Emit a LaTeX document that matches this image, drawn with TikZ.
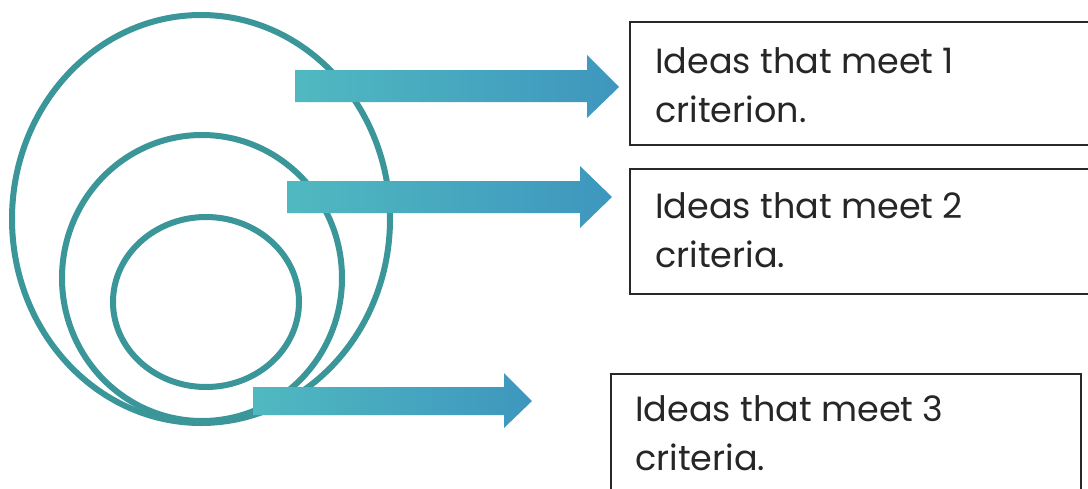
\documentclass[tikz,border=0pt]{standalone}
\usepackage{fontspec}
\setmainfont{Poppins}
\definecolor{ring}{RGB}{58,150,153}
\definecolor{arrA}{RGB}{80,185,192}
\definecolor{arrB}{RGB}{62,150,190}
\definecolor{boxline}{RGB}{40,40,40}
\begin{document}
\begin{tikzpicture}[x=1pt,y=-1pt,
  ringline/.style={draw=ring,line width=6pt},
  arrowshape/.style={left color=arrA,right color=arrB,draw=none},
  textbox/.style={draw=boxline,line width=1.6pt,rectangle,inner sep=0pt,anchor=north west},
  label/.style={anchor=base west,align=left,inner sep=0pt,text=black!85,
    font=\fontsize{35}{49}\selectfont}]
\useasboundingbox (0,0) rectangle (1088,488);
\fill[white] (0,0) rectangle (1088,488);
\begin{scope}
\clip (0,0) rectangle (1088,488);
% rings
\draw[ringline] (201,219) ellipse [x radius=189,y radius=204];
\draw[ringline] (202,278) ellipse [x radius=140,y radius=143];
\draw[ringline] (206,302) ellipse [x radius=93,y radius=85];
% arrows
\path[arrowshape] (295,70) -- (587,70) -- (587,55) -- (619,87) -- (587,118) -- (587,102) -- (295,102) -- cycle;
\path[arrowshape] (287,181) -- (580,181) -- (580,166) -- (612,197) -- (580,228) -- (580,213) -- (287,213) -- cycle;
\path[arrowshape] (253,387) -- (504,387) -- (504,373) -- (532,401) -- (504,428) -- (504,415) -- (253,415) -- cycle;
% boxes
\node[textbox,minimum width=480pt,minimum height=123pt] (b1) at (629,21) {};
\node[textbox,minimum width=480pt,minimum height=125pt] (b2) at (629,168) {};
\node[textbox,minimum width=470pt,minimum height=130pt] (b3) at (610,373) {};
\node[label] (t1) at (655,122) {Ideas that meet 1\\criterion.};
\node[label] (t2) at (655,267) {Ideas that meet 2\\criteria.};
\node[label] (t3) at (635,470) {Ideas that meet 3\\criteria.};
\end{scope}
\end{tikzpicture}
\end{document}
